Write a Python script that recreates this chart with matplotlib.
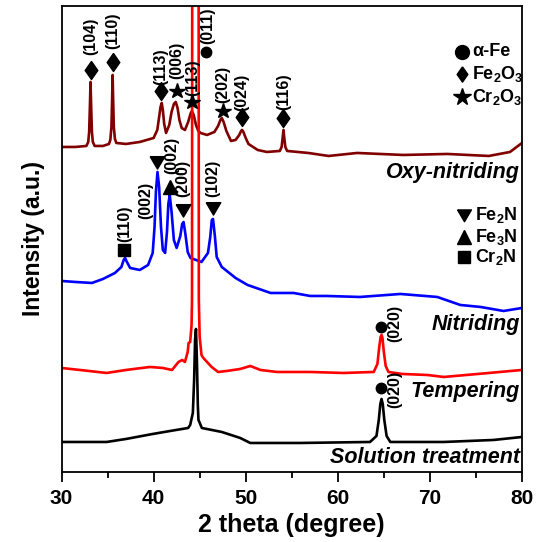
import matplotlib
matplotlib.use("Agg")
import matplotlib.pyplot as plt

plt.rcParams["font.family"] = ["Liberation Sans", "DejaVu Sans"]
plt.rcParams["font.weight"] = "bold"
plt.rcParams["mathtext.fontset"] = "custom"
plt.rcParams["mathtext.rm"] = "Liberation Sans:bold"
plt.rcParams["mathtext.bf"] = "Liberation Sans:bold"
plt.rcParams["mathtext.it"] = "Liberation Sans:bold:italic"

# stacked patterns, intensity in a.u. (offsets already included)
oxy_2theta = [30.0, 31.5, 32.7, 32.9, 33.0, 33.08, 33.15, 33.22, 33.3, 33.4, 33.6, 34.5, 35.15, 35.3,
              35.42, 35.5, 35.55, 35.6, 35.68, 35.8, 35.95, 37.0, 38.5, 40.0, 40.4, 40.6, 40.75, 40.88,
              41.0, 41.15, 41.35, 41.7, 41.95, 42.2, 42.4, 42.6, 42.8, 43.05, 43.4, 43.75, 44.0, 44.15,
              44.35, 44.6, 44.85, 45.1, 45.8, 46.6, 47.0, 47.25, 47.4, 47.6, 47.9, 48.4, 48.9, 49.3,
              49.5, 49.6, 49.75, 50.0, 50.3, 51.3, 52.3, 53.7, 53.9, 54.02, 54.1, 54.18, 54.3, 54.5,
              56.8, 59.0, 62.1, 67.1, 71.9, 76.4, 78.7, 80.0]
oxy_int = [325, 325, 326, 330, 340, 365, 390, 365, 340, 330, 326, 326, 328, 332,
           345, 375, 397, 375, 345, 333, 329, 328, 330, 334, 342, 355, 365, 369,
           362, 348, 339, 347, 360, 368, 370, 364, 352, 344, 342, 350, 358, 361,
           357, 347, 341, 339, 337, 340, 346, 352, 354, 350, 341, 331, 332, 337,
           341, 342, 340, 334, 328, 322, 320, 321, 325, 335, 342, 335, 325, 321,
           319, 316, 319, 317, 318, 316, 320, 329]

nit_2theta = [30.0, 31.5, 33.3, 34.5, 35.8, 36.5, 36.75, 36.9, 37.1, 37.45, 38.5, 39.4, 39.9, 40.1,
              40.25, 40.42, 40.6, 40.8, 41.0, 41.25, 41.45, 41.6, 41.75, 41.95, 42.2, 42.5, 42.9, 43.1,
              43.25, 43.45, 43.7, 44.0, 45.2, 45.9, 46.15, 46.32, 46.45, 46.65, 46.85, 47.4, 48.9, 50.2,
              52.7, 55.2, 57.0, 58.8, 62.4, 66.8, 70.8, 73.3, 75.5, 78.0, 80.0]
nit_int = [191, 190, 189, 193, 199, 205, 212, 214, 210, 204, 202, 207, 219, 245,
           280, 300, 285, 245, 222, 219, 240, 268, 277, 260, 232, 224, 236, 248,
           250, 238, 220, 214, 210, 219, 235, 252, 253, 236, 215, 205, 194, 187,
           179, 179, 176, 176, 175, 178, 175, 167, 165, 161, 164]

temp_2theta = [30.0, 32.0, 34.9, 37.0, 39.6, 41.0, 42.0, 42.7, 43.1, 43.4, 43.7, 43.8, 43.97, 44.12,
               44.17, 44.2, 44.54, 44.88, 44.91, 45.0, 45.2, 45.4, 45.8, 46.3, 47.0, 47.95, 49.4,
               50.5, 51.6, 53.4, 57.0, 60.6, 63.9, 64.3, 64.5, 64.65, 64.75, 64.85, 65.0, 65.2, 65.5,
               67.0, 69.7, 71.5, 75.2, 80.0]
temp_int = [104, 102, 99, 102, 105, 104, 102, 110, 112, 110, 120, 129, 130, 147,
            172, 600, 4000, 600, 172, 135, 117, 114, 110, 105, 100, 101, 103,
            106, 102, 100, 100, 99, 100, 108, 125, 135, 137, 134, 120, 106, 100,
            98, 97, 95, 98, 102]

sol_2theta = [30.0, 34.9, 37.0, 39.9, 41.8, 43.75, 43.97, 44.26, 44.4, 44.5, 44.6, 44.7, 44.8, 44.87,
              45.24, 47.4, 49.4, 50.5, 55.9, 63.5, 64.2, 64.45, 64.62, 64.75, 64.88, 65.05, 65.3, 65.7,
              71.5, 76.9, 80.0]
sol_int = [30, 30, 33, 38, 41, 44, 47, 59, 92, 132, 143, 112, 67, 52,
           44, 40, 34, 29, 29, 30, 36, 52, 68, 73, 68, 52, 36, 30,
           30, 32, 35]

# phase marks: (2theta, marker height, label, text height)
oxy_fe2o3 = [(33.15, 402, "(104)", 436), (35.6, 410, "(110)", 441), (40.8, 381, "(113)", 405),
             (49.6, 355, "(024)", 380), (54.1, 354, "(116)", 380)]
oxy_cr2o3 = [(42.55, 381, "(006)", 412), (44.2, 370, "(113)", 394), (47.55, 361, "(202)", 388)]
oxy_fe = [(45.7, 420, "(011)", 446)]
nit_fe2n = [(40.4, 310, None, None), (43.2, 262, "(200)", 294), (46.45, 264, "(102)", 294)]
nit_fe3n = [(41.8, 285, "(002)", 317)]
nit_cr2n = [(36.8, 222, "(110)", 248)]
fe_020 = [(64.73, 145, "(020)", 149), (64.73, 84, "(020)", 83)]

diamond = [(0, 1), (0.7, 0), (0, -1), (-0.7, 0), (0, 1)]
triangle_down = [(-1, 0.8), (1, 0.8), (0, -0.9), (-1, 0.8)]

fig = plt.figure(figsize=(5.43, 5.42), dpi=100)
ax = fig.add_axes([0.1133, 0.1292, 0.848, 0.8598])

ax.plot(oxy_2theta, oxy_int, color="#800000", lw=1.9)
ax.plot(nit_2theta, nit_int, color="#0000ff", lw=1.9)
ax.plot(temp_2theta, temp_int, color="#ff0000", lw=1.9)
ax.plot(sol_2theta, sol_int, color="black", lw=1.9)

ann_kw = dict(rotation=90, ha="center", va="center", fontsize=11.5, fontweight="bold")


def mark(items, marker, size, dx=0.0):
    for x, y, label, ty in items:
        ax.plot(x, y, marker=marker, ms=size, color="black", mec="black", ls="none")
        if label:
            ax.text(x + dx, ty, label, **ann_kw)


mark(oxy_fe2o3, diamond, 13)
mark(oxy_cr2o3, "*", 11.5)
mark(oxy_fe, "o", 7.5, dx=0.15)
mark(nit_fe2n, triangle_down, 10.5)
mark(nit_fe3n, "^", 10, dx=0.2)
mark(nit_cr2n, "s", 8, dx=0.1)
ax.text(39.2, 272, "(002)", **ann_kw)
for x, y, label, ty in fe_020:
    ax.plot(x, y, marker="o", ms=7.5, color="black", ls="none")
    ax.text(x + 1.5, ty, label, **ann_kw)

# phase keys
leg_kw = dict(fontsize=13, fontweight="bold", va="center", ha="left")
ax.plot(73.5, 420, marker="o", ms=10, color="black")
ax.text(74.6, 420, "α-Fe", **leg_kw)
ax.plot(73.5, 398, marker=diamond, ms=11, color="black")
ax.text(74.6, 398, r"Fe$_\mathbf{2}$O$_\mathbf{3}$", **leg_kw)
ax.plot(73.5, 375, marker="*", ms=13, color="black")
ax.text(74.6, 375, r"Cr$_\mathbf{2}$O$_\mathbf{3}$", **leg_kw)
ax.plot(73.75, 257, marker=triangle_down, ms=10, color="black")
ax.text(74.95, 257, r"Fe$_\mathbf{2}$N", **leg_kw)
ax.plot(73.75, 235, marker="^", ms=10, color="black")
ax.text(74.95, 235, r"Fe$_\mathbf{3}$N", **leg_kw)
ax.plot(73.75, 215, marker="s", ms=8, color="black")
ax.text(74.95, 215, r"Cr$_\mathbf{2}$N", **leg_kw)

# curve names
name_kw = dict(fontsize=15.5, fontweight="bold", fontstyle="italic", ha="right", va="baseline")
ax.text(79.8, 294, "Oxy-nitriding", **name_kw)
ax.text(79.8, 142, "Nitriding", **name_kw)
ax.text(79.8, 75, "Tempering", **name_kw)
ax.text(79.8, 9, "Solution treatment", **name_kw)

ax.set_xlim(30, 80)
ax.set_ylim(0, 466)
ax.set_yticks([])
ax.set_xticks([30, 40, 50, 60, 70, 80])
ax.set_xticks([35, 45, 55, 65, 75], minor=True)
ax.tick_params(axis="x", which="major", direction="out", length=7, width=1.3, labelsize=15, pad=5)
ax.tick_params(axis="x", which="minor", direction="out", length=4, width=1.3)
for s in ax.spines.values():
    s.set_linewidth(1.3)
ax.set_xlabel("2 theta (degree)", fontsize=18, fontweight="bold", labelpad=4)
ax.set_ylabel("Intensity (a.u.)", fontsize=16.5, fontweight="bold", labelpad=12)

fig.savefig("out.png", dpi=100)
